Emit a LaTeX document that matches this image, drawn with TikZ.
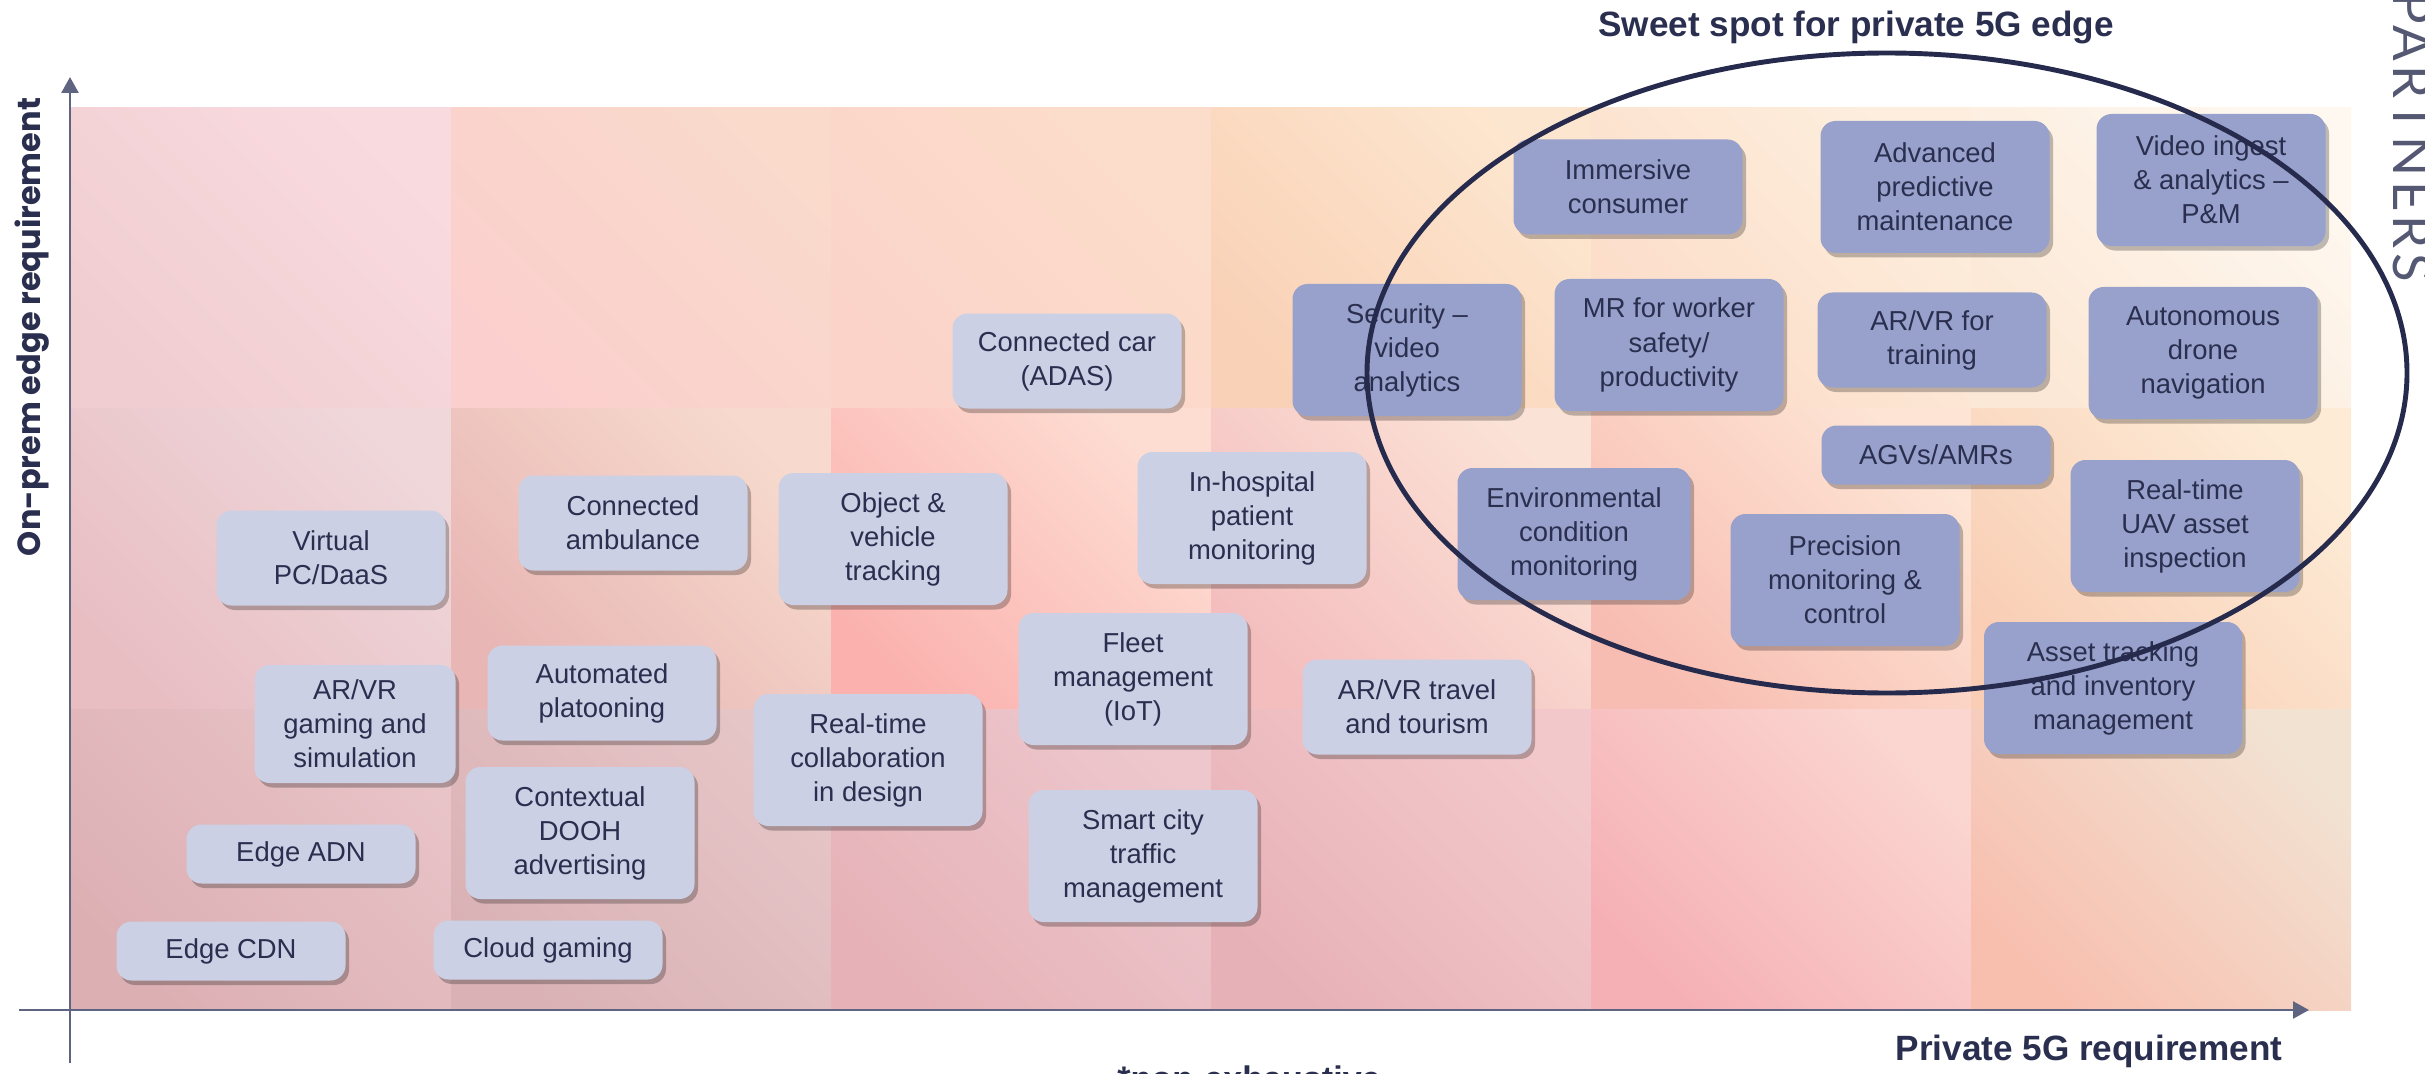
\documentclass[tikz,border=0pt]{standalone}
\usepackage{fontspec}
\setmainfont{Liberation Sans}
\newfontfamily\axisfont{Poppins}
\newfontfamily\markfont{Lato}[LetterSpace=8]
\usetikzlibrary{arrows.meta,shadows}

\definecolor{navy}{HTML}{2B2F4F}
\definecolor{ringblue}{HTML}{262B4D}
\definecolor{axisgray}{HTML}{5F6480}
\definecolor{lightbox}{HTML}{CBD0E4}
\definecolor{darkbox}{HTML}{97A1CB}
% tile colours, lower left (lo) and upper right (hi), row then column
\definecolor{lo11}{HTML}{F0CDD1}\definecolor{hi11}{HTML}{F9DBDF}
\definecolor{lo12}{HTML}{FBCFCD}\definecolor{hi12}{HTML}{F9DACB}
\definecolor{lo13}{HTML}{FBD3C9}\definecolor{hi13}{HTML}{FCDDCB}
\definecolor{lo14}{HTML}{F9D1B6}\definecolor{hi14}{HTML}{FDE6CF}
\definecolor{lo15}{HTML}{FCDCC8}\definecolor{hi15}{HTML}{FDEEDD}
\definecolor{lo16}{HTML}{FCE8D6}\definecolor{hi16}{HTML}{FEF8F0}
\definecolor{lo21}{HTML}{E8BEC3}\definecolor{hi21}{HTML}{EFD7DA}
\definecolor{lo22}{HTML}{E8B6B4}\definecolor{hi22}{HTML}{F7DACD}
\definecolor{lo23}{HTML}{FBB2AF}\definecolor{hi23}{HTML}{FDDDD2}
\definecolor{lo24}{HTML}{F4BDBE}\definecolor{hi24}{HTML}{FBE2D6}
\definecolor{lo25}{HTML}{F8BDB2}\definecolor{hi25}{HTML}{FDE4D4}
\definecolor{lo26}{HTML}{F9CEB5}\definecolor{hi26}{HTML}{FDEBD6}
\definecolor{lo31}{HTML}{DCAFB3}\definecolor{hi31}{HTML}{E8C3C7}
\definecolor{lo32}{HTML}{DAB2B5}\definecolor{hi32}{HTML}{E6C5C7}
\definecolor{lo33}{HTML}{E6B2B8}\definecolor{hi33}{HTML}{EDC7CC}
\definecolor{lo34}{HTML}{E7B2B7}\definecolor{hi34}{HTML}{F3C8CB}
\definecolor{lo35}{HTML}{F5B0B6}\definecolor{hi35}{HTML}{FBD6D0}
\definecolor{lo36}{HTML}{F8BFAF}\definecolor{hi36}{HTML}{F2E2D2}

\begin{document}
\begin{tikzpicture}[
  usecase/.style={rounded corners=0.15cm, fill=lightbox, text=navy, align=center,
    minimum width=2.29cm, inner sep=0pt,
    font=\fontsize{7.8}{9.7}\selectfont,
    drop shadow={shadow xshift=0.035cm, shadow yshift=-0.045cm, opacity=0.25, fill=black}},
  sweet/.style={usecase, fill=darkbox},
  oneline/.style={minimum height=0.59cm},
  twoline/.style={minimum height=0.95cm},
  threeline/.style={minimum height=1.32cm},
  axis/.style={axisgray, line width=0.7pt, -{Triangle[width=0.17cm,length=0.16cm]}},
  ring/.style={ringblue, line width=1.4pt}]
\useasboundingbox (0,0) rectangle (24.25,10.73);

% background grid
\foreach \row in {1,2,3}
  \foreach \col in {1,...,6}
    \shade[bottom color=lo\row\col, top color=hi\row\col, shading angle=-45]
      ({0.71+3.8*(\col-1)},{9.65-3.007*\row}) rectangle ++(3.8,3.007);

% axes
\coordinate (yfoot) at (0.70,0.10);
\coordinate (ytip) at (0.70,9.96);
\coordinate (xfoot) at (0.19,0.63);
\coordinate (xtip) at (23.09,0.63);
\draw[axis] (yfoot) -- (ytip);
\draw[axis] (xfoot) -- (xtip);

\node[rotate=90, text=navy, font=\axisfont\bfseries\fontsize{9.1}{10}\selectfont] (ylabel) at (0.32,7.46) {On-prem edge requirement};
\node[anchor=base, text=navy, font=\bfseries\fontsize{10}{12}\selectfont] (xlabel) at (20.89,0.13) {Private 5G requirement};
\node[anchor=base, text=navy, font=\bfseries\fontsize{10}{12}\selectfont] (sweetlabel) at (18.56,10.36) {Sweet spot for private 5G edge};
\node[anchor=base, text=navy, font=\bfseries\fontsize{9.7}{12}\selectfont] (note) at (12.49,-0.17) {*non-exhaustive};
\node[anchor=base, rotate=-90, text=navy!80, font=\markfont\fontsize{15}{16}\selectfont] (brand) at (23.93,9.36) {PARTNERS};

% use cases outside the sweet spot
\node[usecase,twoline] (vpc) at (3.31,5.15) {Virtual\\PC/DaaS};
\node[usecase,twoline] (ambul) at (6.33,5.50) {Connected\\ambulance};
\node[usecase,threeline] (objtrack) at (8.93,5.34) {Object \&\\vehicle\\tracking};
\node[usecase,twoline] (car) at (10.67,7.12) {Connected car\\(ADAS)};
\node[usecase,threeline] (hospital) at (12.52,5.55) {In-hospital\\patient\\monitoring};
\node[usecase,threeline] (fleet) at (11.33,3.94) {Fleet\\management\\(IoT)};
\node[usecase,twoline] (travel) at (14.17,3.66) {AR/VR travel\\and tourism};
\node[usecase,minimum width=2.01cm,minimum height=1.18cm] (gaming) at (3.55,3.49) {AR/VR\\gaming and\\simulation};
\node[usecase,twoline] (platoon) at (6.02,3.80) {Automated\\platooning};
\node[usecase,threeline] (collab) at (8.68,3.13) {Real-time\\collaboration\\in design};
\node[usecase,threeline] (dooh) at (5.80,2.40) {Contextual\\DOOH\\advertising};
\node[usecase,oneline] (adn) at (3.01,2.19) {Edge ADN};
\node[usecase,threeline] (smartcity) at (11.43,2.17) {Smart city\\traffic\\management};
\node[usecase,oneline] (cdn) at (2.31,1.22) {Edge CDN};
\node[usecase,oneline] (cloudgame) at (5.48,1.23) {Cloud gaming};

% use cases in the sweet spot
\node[sweet,twoline] (immersive) at (16.28,8.86) {Immersive\\consumer};
\node[sweet,threeline] (predictive) at (19.35,8.86) {Advanced\\predictive\\maintenance};
\node[sweet,threeline] (videoingest) at (22.11,8.93) {Video ingest\\\& analytics --\\P\&M};
\node[sweet,threeline] (security) at (14.07,7.23) {Security --\\video\\analytics};
\node[sweet,threeline] (mrworker) at (16.69,7.28) {MR for worker\\safety/\\productivity};
\node[sweet,twoline] (training) at (19.32,7.33) {AR/VR for\\training};
\node[sweet,threeline] (drone) at (22.03,7.20) {Autonomous\\drone\\navigation};
\node[sweet,oneline] (agv) at (19.36,6.18) {AGVs/AMRs};
\node[sweet,threeline,minimum width=2.33cm] (environ) at (15.74,5.39) {Environmental\\condition\\monitoring};
\node[sweet,threeline] (precision) at (18.45,4.93) {Precision\\monitoring \&\\control};
\node[sweet,threeline] (uav) at (21.85,5.47) {Real-time\\UAV asset\\inspection};
\node[sweet,threeline,minimum width=2.58cm] (asset) at (21.13,3.85) {Asset tracking\\and inventory\\management};

% sweet spot outline
\draw[ring] (18.87,7.00) ellipse [x radius=5.20, y radius=3.20];
\end{tikzpicture}
\end{document}
